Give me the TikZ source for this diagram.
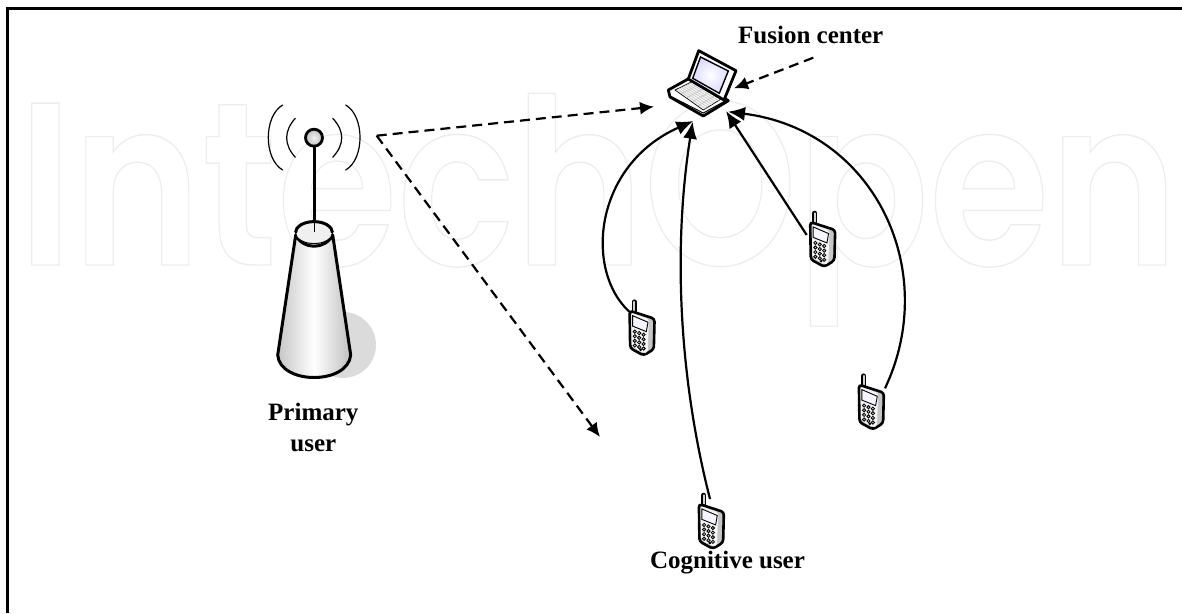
\documentclass[tikz,border=0pt]{standalone}
\usepackage{fontspec}
\setmainfont{Liberation Serif}
\newfontfamily\wmfont[FakeBold=0.6]{Poppins SemiBold}
\usetikzlibrary{arrows.meta,calc}
\tikzset{
  lbl/.style={font=\fontsize{25}{31}\selectfont\bfseries,text=black,inner sep=0pt,align=center},
  dashconn/.style={line width=2.2pt,dash pattern=on 10pt off 6pt,-{Latex[length=14pt,width=13pt]}},
  solidconn/.style={line width=2.2pt,-{Latex[length=17pt,width=14pt]}},
  wave/.style={line width=1.2pt,line cap=round},
  anchorpt/.style={inner sep=0pt,minimum size=40pt},
  phone/.pic={
    \begin{scope}[scale=1.1]
    \draw[line width=5pt,line cap=round] (-6.7,-28)--(-6.7,-19);
    \draw[line width=1.8pt,gray!35,line cap=round] (-6.7,-28)--(-6.7,-20);
    \draw[line width=2.6pt,fill=gray!45,rounded corners=3pt] (-11,-20)--(11.7,-12.7)--(11,15)--(1.7,20.7)--(-10.5,14)--cycle;
    \fill[gray!8,rounded corners=2pt] (-9.5,-18)--(6.5,-12.5)--(5.5,18)--(1.7,18.5)--(-9,12.5)--cycle;
    \draw[line width=.9pt,fill=blue!4] (-8.3,-15.5)--(5.7,-9.5)--(4.2,-1)--(-8.3,-6)--cycle;
    \foreach \r in {0,1,2,3}{\foreach \c in {0,1,2}{
      \draw[line width=.8pt,fill=gray!50] (-6.3+4*\c,-1+4.2*\r+1.4*\c) circle (1.5);
    }}
    \fill (-1,15.5) circle (1.3);
    \end{scope}
  }
}
\begin{document}
\begin{tikzpicture}[x=1pt,y=-1pt]
\useasboundingbox (0,0) rectangle (1182,613);
% watermark
\node[anchor=base west,inner sep=0pt,text=white] (wm) at (18,265)
  {\special{pdf:code 0.93 G}\resizebox{1160pt}{\height}{\fontsize{232}{232}\selectfont\wmfont IntechOpen}};
% frame
\draw[line width=3pt,black] (1182,8.5)--(7.5,8.5)--(7.5,613);
% tower
\begin{scope}
  \clip (300,290) rectangle (400,377);
  \fill[gray!28] (343,345) circle (33);
\end{scope}
\draw[line width=3pt,line join=round,left color=gray!45,right color=gray!50,middle color=white]
  (295.7,235)--(277.7,355) .. controls (280,385) and (348,385) .. (350.7,355)--(332.7,235)
  .. controls (325,250) and (303,250) .. cycle;
\draw[line width=1pt,fill=gray!12] (314,232.6) ellipse (18.5 and 11);
\draw[line width=3pt] (295.5,232.6) arc (180:360:18.5 and 11);
\draw[line width=1pt] (314,232)--(314,222);
\draw[line width=3pt] (314,222)--(314,147);
\node[circle,draw,line width=2.8pt,inner color=gray!12,outer color=gray!50,minimum size=17pt,inner sep=0pt] (ball) at (314,137.7) {};
\draw[wave] (295.3,118.3) .. controls (283.8,131) and (283.8,144.5) .. (295.3,157.3);
\draw[wave] (282.7,105) .. controls (263.5,116) and (263.5,159) .. (282.7,170);
\draw[wave] (332.7,118.3) .. controls (344.7,131) and (344.7,144.5) .. (332.7,157.3);
\draw[wave] (345.7,105) .. controls (364.8,116) and (364.8,159) .. (345.7,170);
% laptop
\coordinate (kA) at (675,90); \coordinate (kB) at (691.7,81.7); \coordinate (kC) at (720.7,99.3); \coordinate (kD) at (703.3,110);
\draw[line width=2.8pt,line join=round,fill=white] (668.3,90)--(691.7,77)--(728.3,100.7)--(703.3,116)--(670,97)--cycle;
\draw[line width=.7pt,fill=gray!8] (kA)--(kB)--(kC)--(kD)--cycle;
\foreach \t in {.2,.4,.6,.8}{\draw[gray!50,line width=.5pt] ($(kA)!\t!(kD)$)--($(kB)!\t!(kC)$);}
\foreach \t in {.125,.25,.375,.5,.625,.75,.875}{\draw[gray!50,line width=.5pt] ($(kA)!\t!(kB)$)--($(kD)!\t!(kC)$);}
\draw[line width=1pt] (670,96)--(703.3,113)--(727,100);
\draw[line width=2.8pt,line join=round,fill=white] (698.7,50.7)--(736,70.7)--(724,100)--(688.3,79)--cycle;
\draw[line width=1.4pt,inner color=white,outer color=blue!14] (700.5,57)--(728.3,71)--(719.3,93.3)--(692.7,78.3)--cycle;
% phones
\node[anchorpt] (p1) at (641.7,332.7) {};
\node[anchorpt] (p2) at (822.3,244) {};
\node[anchorpt] (p3) at (871,406.7) {};
\node[anchorpt] (p4) at (711,526) {};
\pic at (p1) {phone};
\pic at (p2) {phone};
\pic at (p3) {phone};
\pic at (p4) {phone};
\coordinate (apex) at (376.7,135.7);
\coordinate (tipL) at (654,106.7);
\coordinate (tipS) at (600,437);
\coordinate (fcStart) at (813.3,57.7);
\coordinate (tipF) at (734,88.3);
\coordinate (tip1) at (693.3,121);
\coordinate (tip4) at (692.7,121.7);
\coordinate (tip2) at (726,111);
\coordinate (tip3) at (728,111.7);
\coordinate (o1) at ($(p1)+(-12.4,-21)$);
\coordinate (o2) at ($(p2)+(-15.6,-9)$);
\coordinate (o3) at ($(p3)+(14,-18.4)$);
\coordinate (o4) at ($(p4)+(-1,-27)$);
% connectors
\draw[dashconn] (apex)--(tipL);
\draw[dashconn] (apex)--(tipS);
\draw[dashconn] (fcStart)--(tipF);
\draw[solidconn] (o1) .. controls (584,270) and (594,165) .. (tip1);
\draw[solidconn] (o4) .. controls (677,370) and (674,240) .. (tip4);
\draw[solidconn] (o2)--(tip2);
\draw[solidconn] (o3) .. controls (941,270) and (874,130) .. (tip3);
% labels
\node[lbl,anchor=base west] (fc) at (738,43.3) {Fusion center};
\node[lbl] (pu) at (313.3,427) {Primary\\user};
\node[lbl,anchor=base] (cu) at (727.5,568.3) {Cognitive user};
\end{tikzpicture}
\end{document}
